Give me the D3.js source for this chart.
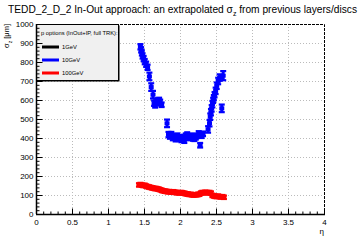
<!DOCTYPE html>
<html>
<head>
<meta charset="utf-8">
<script src="https://cdn.jsdelivr.net/npm/d3@7"></script>
<style>
  html, body { margin: 0; padding: 0; background: #fff; }
  svg { display: block; font-family: "Liberation Sans", Arial, sans-serif; }
</style>
</head>
<body>
<div id="chart"></div>
<script>
// sigma_z vs eta, 10 GeV (blue) and 100 GeV (red); 1 GeV has no points in range
const blueEta = [1.45, 1.46, 1.47, 1.48, 1.495, 1.51, 1.53, 1.55, 1.575, 1.60, 1.625, 1.64, 1.655, 1.67, 1.69, 1.71, 1.725, 1.745,
  1.82, 1.84, 1.86, 1.88, 1.90, 1.92, 1.94, 1.96, 1.98, 2.00, 2.02, 2.04, 2.06, 2.08, 2.10, 2.12, 2.14, 2.16, 2.18, 2.20,
  2.22, 2.24, 2.26, 2.28, 2.30, 2.32, 2.39, 2.41, 2.42, 2.43, 2.44, 2.45, 2.46, 2.47, 2.48, 2.495, 2.51, 2.53, 2.55, 2.58, 2.60];
const blueSigma = [880, 864, 848, 832, 818, 802, 788, 772, 724, 668, 628, 583, 572, 585, 595, 600, 588, 575,
  477, 418, 410, 420, 402, 408, 396, 412, 398, 405, 392, 402, 388, 412, 418, 402, 408, 412, 400, 396,
  406, 412, 422, 362, 414, 422, 445, 478, 512, 536, 556, 578, 598, 612, 628, 648, 675, 700, 718, 556, 728];
const blueErr = [14, 14, 14, 14, 14, 14, 14, 14, 20, 20, 20, 14, 12, 14, 14, 12, 14, 12,
  20, 14, 14, 12, 14, 12, 14, 12, 14, 12, 14, 12, 14, 12, 12, 14, 12, 12, 14, 12,
  14, 12, 14, 12, 14, 12, 17, 17, 17, 17, 17, 17, 14, 14, 14, 17, 17, 17, 17, 20, 24];

const redEta = [1.43, 1.45, 1.47, 1.49, 1.51, 1.53, 1.55, 1.57, 1.59, 1.61, 1.63, 1.65, 1.67, 1.69, 1.71, 1.73, 1.75, 1.77,
  1.79, 1.81, 1.83, 1.85, 1.87, 1.89, 1.91, 1.93, 1.95, 1.97, 1.99, 2.01, 2.03, 2.05, 2.07, 2.09, 2.11, 2.13, 2.15, 2.17,
  2.19, 2.21, 2.23, 2.25, 2.27, 2.29, 2.31, 2.33, 2.35, 2.37, 2.39, 2.41, 2.43, 2.45, 2.47, 2.49, 2.51, 2.53, 2.55, 2.57, 2.59, 2.61];
const redSigma = [153, 155, 152, 150, 151, 147, 144, 142, 140, 138, 136, 134, 134, 132, 130, 127, 124, 122,
  120, 119, 117, 118, 116, 115, 117, 114, 113, 112, 111, 113, 112, 110, 108, 106, 105, 103, 103, 101,
  100, 102, 101, 103, 104, 110, 113, 112, 114, 113, 112, 113, 110, 98, 95, 93, 92, 94, 91, 90, 91, 88];
const redErr = 9;

const legendLabels = ["1GeV", "10GeV", "100GeV"];
const legendColors = ["#000000", "#0000ff", "#ff0000"];
const xTicks = [0, 0.5, 1, 1.5, 2, 2.5, 3, 3.5, 4];
const yTicks = [0, 100, 200, 300, 400, 500, 600, 700, 800, 900, 1000];

const W = 360, H = 240;
const svg = d3.select("#chart").append("svg").attr("width", W).attr("height", H);

const x = d3.scaleLinear().domain([0, 4]).range([36, 324]);
const y = d3.scaleLinear().domain([0, 1000]).range([214, 24]);

// title
const title = svg.append("text").attr("x", 8).attr("y", 13).style("font-size", "10.2px");
title.append("tspan").text("TEDD_2_D_2 In-Out approach: an extrapolated \u03c3");
title.append("tspan").attr("dy", 3).style("font-size", "7px").text("z");
title.append("tspan").attr("dy", -3).text(" from previous layers/discs");

// grid
const grid = svg.append("g").attr("stroke", "#bbb").attr("stroke-dasharray", "1,2").attr("stroke-width", 1);
xTicks.slice(1, -1).forEach(t => {
  grid.append("line").attr("x1", x(t) + 0.5).attr("x2", x(t) + 0.5).attr("y1", y(1000)).attr("y2", y(0));
});
yTicks.slice(1, -1).forEach(t => {
  grid.append("line").attr("x1", x(0)).attr("x2", x(4)).attr("y1", y(t) + 0.5).attr("y2", y(t) + 0.5);
});

// frame top/right dashed
svg.append("path")
  .attr("d", `M${x(0)},${y(1000) + 0.5}H${x(4) + 0.5}V${y(0)}`)
  .attr("fill", "none").attr("stroke", "#000").attr("stroke-dasharray", "3,1");

// data points with error bars
function drawSeries(etas, sigmas, errs, color) {
  const g = svg.append("g").attr("stroke", color).attr("fill", "none");
  etas.forEach((e, i) => {
    const err = Array.isArray(errs) ? errs[i] : errs;
    const cx = x(e), y0 = y(sigmas[i] - err), y1 = y(sigmas[i] + err);
    g.append("line").attr("x1", cx).attr("x2", cx).attr("y1", y0).attr("y2", y1).attr("stroke-width", 3);
    g.append("line").attr("x1", cx - 3).attr("x2", cx + 3).attr("y1", y0).attr("y2", y0).attr("stroke-width", 2.2);
    g.append("line").attr("x1", cx - 3).attr("x2", cx + 3).attr("y1", y1).attr("y2", y1).attr("stroke-width", 2.2);
    g.append("rect").attr("x", cx - 2.5).attr("y", y(sigmas[i]) - 2).attr("width", 5).attr("height", 4)
      .attr("fill", color).attr("stroke", "none");
  });
}
drawSeries(redEta, redSigma, redErr, "#ff0000");
drawSeries(blueEta, blueSigma, blueErr, "#0000ff");

// legend
const lg = svg.append("g");
lg.append("rect").attr("x", 37.5).attr("y", 25.5).attr("width", 82).attr("height", 56)
  .attr("fill", "#000");
lg.append("rect").attr("x", 36.5).attr("y", 24.5).attr("width", 82).attr("height", 56)
  .attr("fill", "#f0f0f0").attr("stroke", "#000");
lg.append("text").attr("x", 41).attr("y", 35).style("font-size", "5.8px").text("p options (InOut+IP, full TRK):");
legendLabels.forEach((lab, i) => {
  const ly = 47 + i * 13;
  lg.append("line").attr("x1", 42).attr("x2", 59).attr("y1", ly).attr("y2", ly)
    .attr("stroke", legendColors[i]).attr("stroke-width", 3);
  lg.append("text").attr("x", 62).attr("y", ly + 2).style("font-size", "5.8px").text(lab);
});

// axes
const xAxis = svg.append("g").attr("transform", `translate(0,${y(0) + 0.5})`);
xAxis.append("line").attr("x1", x(0)).attr("x2", x(4) + 1).attr("stroke", "#000").attr("stroke-width", 1.5);
d3.range(0, 4.001, 0.1).forEach(v => {
  const major = Math.abs(v * 2 - Math.round(v * 2)) < 1e-6;
  xAxis.append("line").attr("x1", x(v) + 0.5).attr("x2", x(v) + 0.5).attr("y1", 0).attr("y2", major ? -6 : -3)
    .attr("stroke", "#000");
});
xTicks.forEach(t => {
  xAxis.append("text").attr("x", x(t) + 0.5).attr("y", 10).attr("text-anchor", "middle")
    .style("font-size", "8px").text(t);
});
svg.append("text").attr("x", 324).attr("y", 234).attr("text-anchor", "end").style("font-size", "8px").text("\u03b7");

const yAxis = svg.append("g").attr("transform", `translate(${x(0) + 0.5},0)`);
yAxis.append("line").attr("y1", y(0)).attr("y2", y(1000)).attr("stroke", "#000").attr("stroke-width", 1.5);
d3.range(0, 1001, 20).forEach(v => {
  const major = v % 100 === 0;
  yAxis.append("line").attr("y1", y(v) + 0.5).attr("y2", y(v) + 0.5).attr("x1", 0).attr("x2", major ? 6 : 3)
    .attr("stroke", "#000");
});
yTicks.forEach(t => {
  yAxis.append("text").attr("x", -3).attr("y", y(t) + 3).attr("text-anchor", "end")
    .style("font-size", "8px").text(t);
});
const yt = svg.append("text").attr("transform", `translate(9,24) rotate(-90)`).attr("text-anchor", "end")
  .style("font-size", "7.5px");
yt.append("tspan").text("\u03c3");
yt.append("tspan").attr("dy", 2.5).style("font-size", "5px").text("z");
yt.append("tspan").attr("dy", -2.5).text(" [\u03bcm]");
</script>
</body>
</html>
